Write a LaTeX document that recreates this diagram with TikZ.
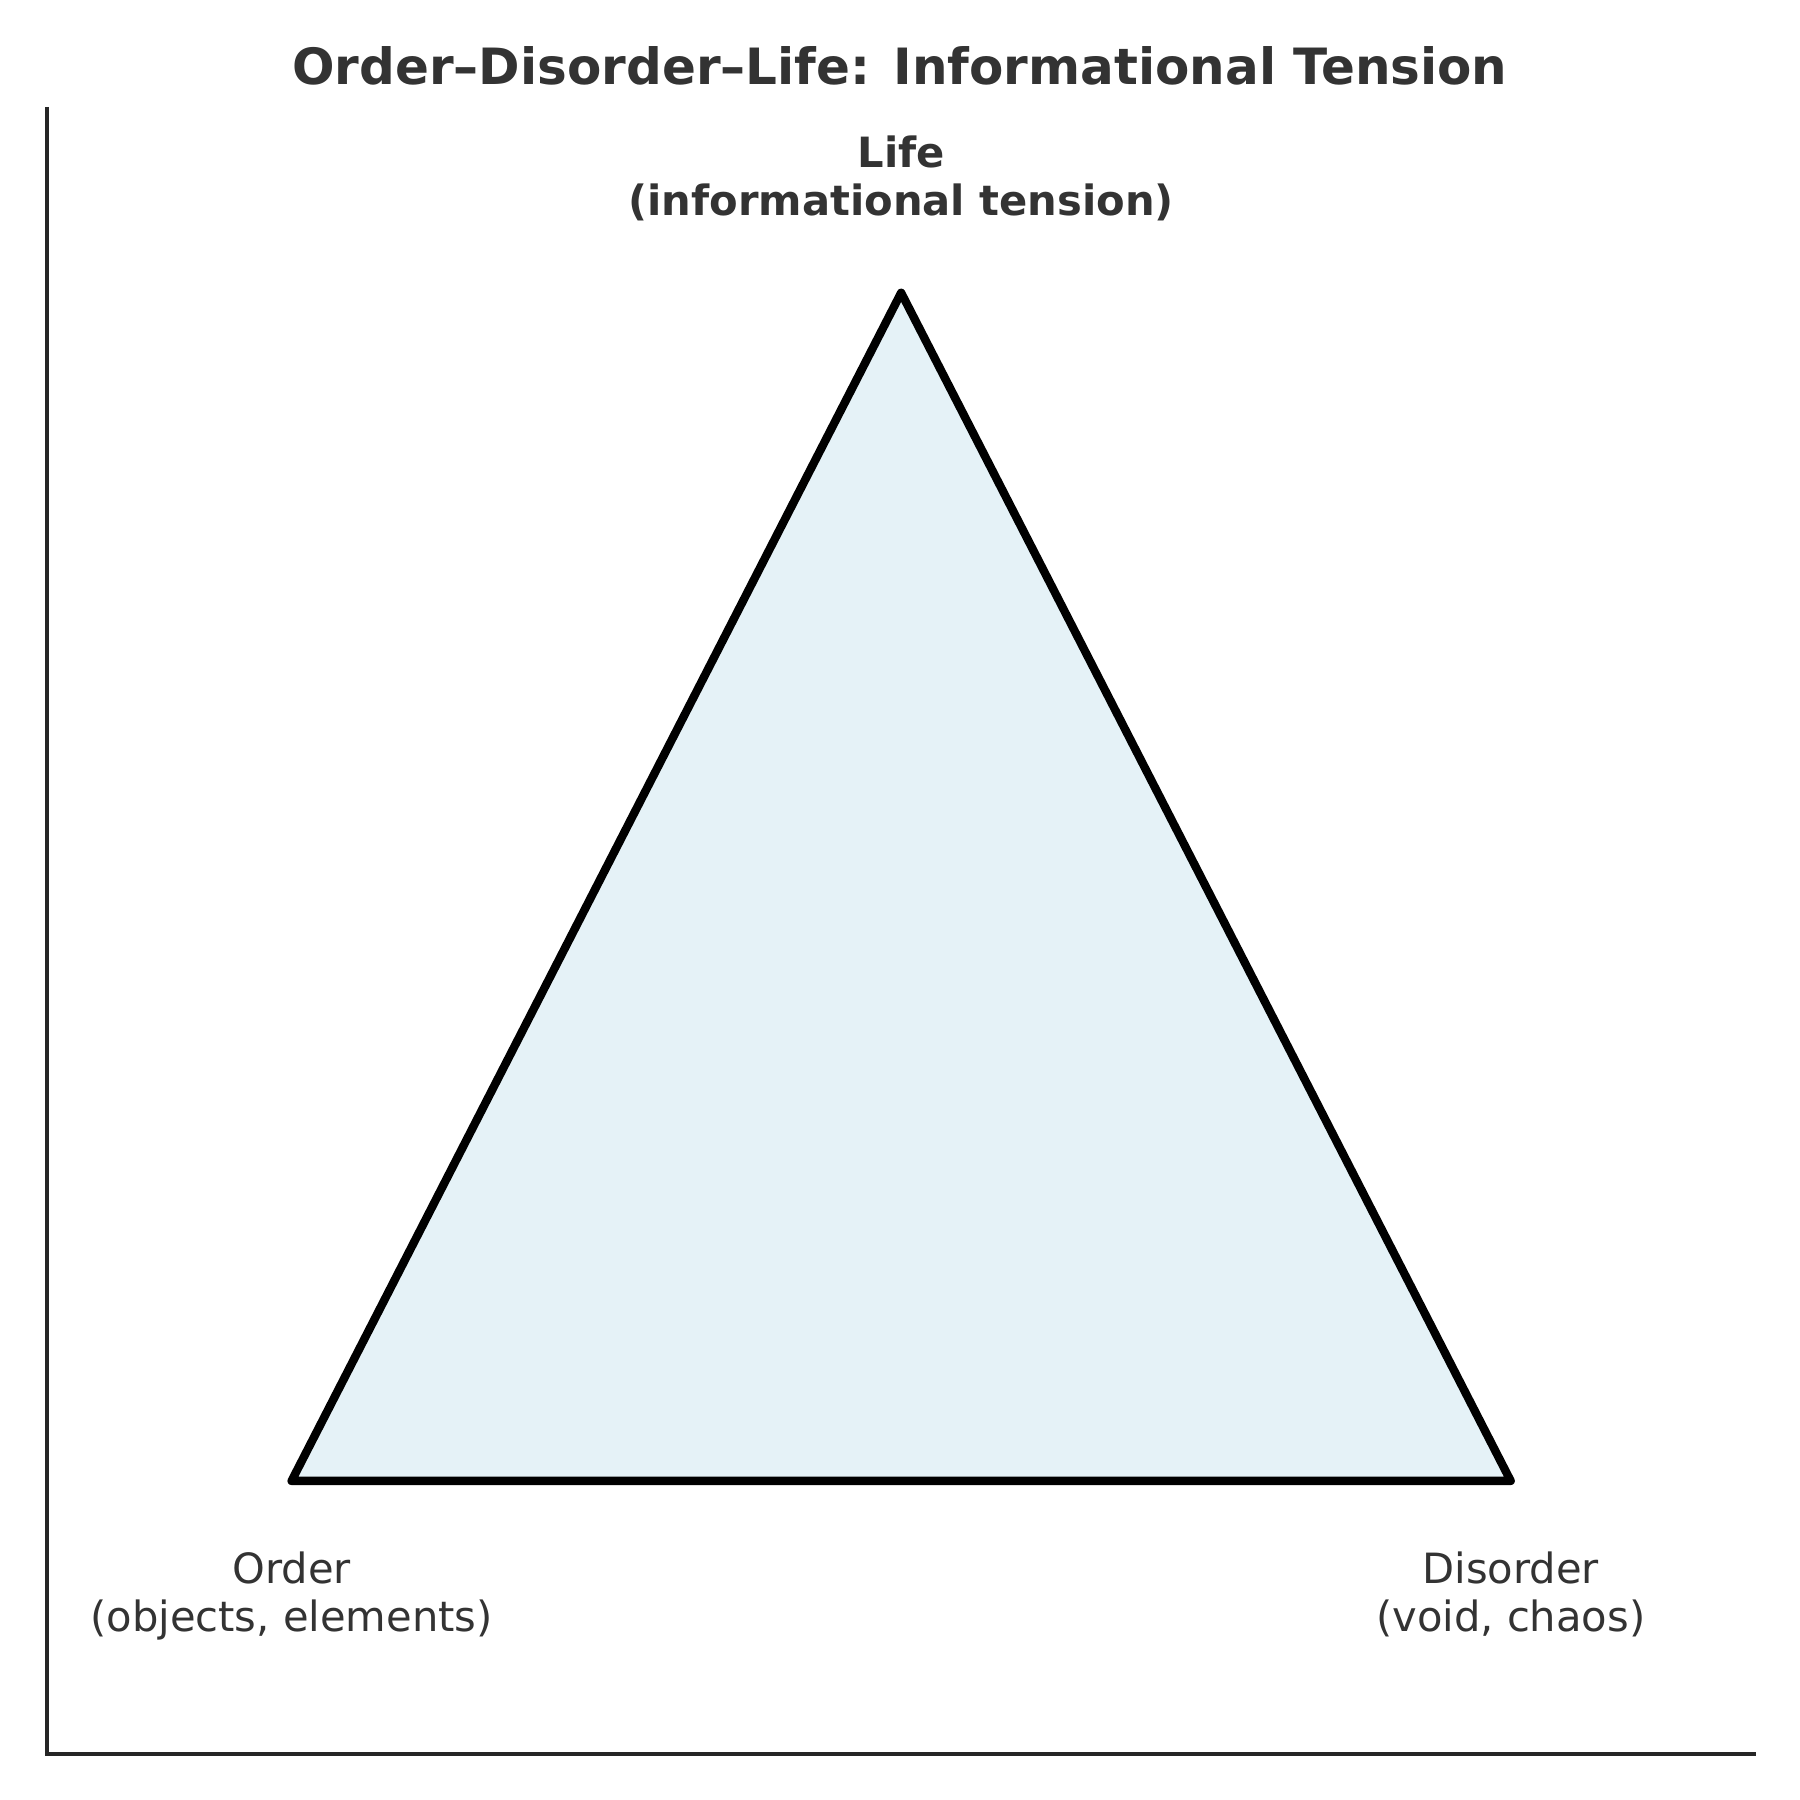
\documentclass[tikz,border=0pt]{standalone}
\usepackage{fontspec}
\setmainfont{DejaVu Sans}
\definecolor{txt}{HTML}{333333}
\definecolor{spine}{HTML}{262626}
\definecolor{trifill}{HTML}{E5F2F7}
\begin{document}
\begin{tikzpicture}[x=0.2755pt,y=-0.2755pt,
  lab/.style={anchor=base,inner sep=0pt,text=txt,font=\fontsize{10}{11.6}\selectfont},
  ttl/.style={anchor=base,inner sep=0pt,text=txt,font=\fontsize{12}{14}\selectfont\bfseries}]
\useasboundingbox (0,0) rectangle (1568,1568);
% axes spines
\draw[spine,line width=0.8pt,line join=miter] (41,93) -- (41,1528) -- (1530,1528);
% triangle
\coordinate (O) at (254,1290);
\coordinate (L) at (785,255);
\coordinate (D) at (1316,1290);
\draw[fill=trifill,draw=black,line width=2pt,line join=round] (O) -- (L) -- (D) -- cycle;
% title
\node[ttl] (title) at (784,74) {Order–Disorder–Life: Informational Tension};
% labels
\node[lab,font=\fontsize{10}{11.6}\selectfont\bfseries] (life) at (785,146)
  {\begin{tabular}[t]{@{}c@{}}Life\\(informational tension)\end{tabular}};
\node[lab] (order) at (254,1379)
  {\begin{tabular}[t]{@{}c@{}}Order\\(objects, elements)\end{tabular}};
\node[lab] (disorder) at (1316,1379)
  {\begin{tabular}[t]{@{}c@{}}Disorder\\(void, chaos)\end{tabular}};
\end{tikzpicture}
\end{document}
